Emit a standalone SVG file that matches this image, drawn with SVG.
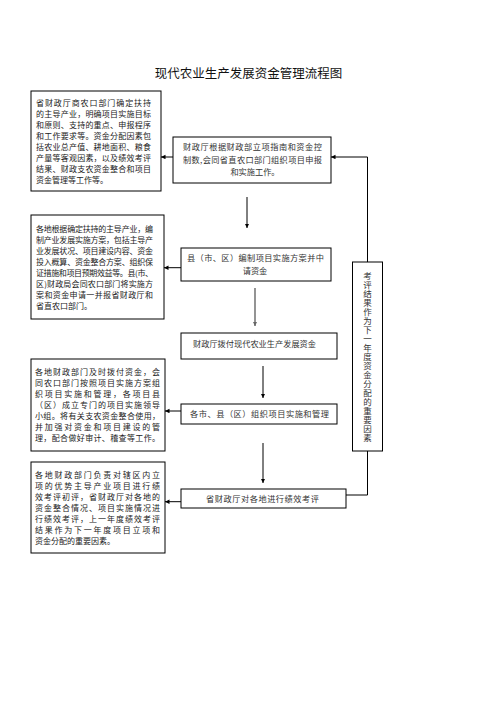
<svg xmlns="http://www.w3.org/2000/svg" width="496" height="702" viewBox="0 0 496 702">
<style>
.box{fill:#fff;stroke:#000;stroke-width:1}
.t{font-family:"Noto Sans CJK SC","Noto Sans",sans-serif;font-size:8px;fill:#222}
.m{font-family:"Noto Sans CJK SC","Noto Sans",sans-serif;font-size:8.2px;fill:#333}
.v{font-family:"Noto Sans CJK SC","Noto Sans",sans-serif;font-size:8.5px;fill:#333;writing-mode:vertical-rl}
.title{font-family:"Noto Sans CJK SC","Noto Sans",sans-serif;font-size:12.5px;fill:#111}
.ln{fill:none;stroke:#000;stroke-width:1}
</style>
<defs>
<marker id="ah" markerUnits="userSpaceOnUse" markerWidth="5" markerHeight="5" refX="4.5" refY="2.25" orient="auto">
<path d="M0,0 L4.5,2.25 L0,4.5 z" fill="#000"/>
</marker>
<marker id="ahg" markerUnits="userSpaceOnUse" markerWidth="5" markerHeight="5" refX="4.5" refY="2.25" orient="auto">
<path d="M0,0 L4.5,2.25 L0,4.5 z" fill="#666"/>
</marker>
</defs>
<rect width="496" height="702" fill="#fff"/>
<text class="title" x="248.5" y="77.5" text-anchor="middle">现代农业生产发展资金管理流程图</text>

<g id="left1">
<rect class="box" x="31" y="91" width="130" height="100"/>
<text class="t" x="36" y="105.5" textLength="115" lengthAdjust="spacing">省财政厅商农口部门确定扶持</text>
<text class="t" x="36" y="116.5" textLength="115" lengthAdjust="spacing">的主导产业，明确项目实施目标</text>
<text class="t" x="36" y="127.5" textLength="115" lengthAdjust="spacing">和原则、支持的重点、申报程序</text>
<text class="t" x="36" y="138.5" textLength="115" lengthAdjust="spacing">和工作要求等。资金分配因素包</text>
<text class="t" x="36" y="149.5" textLength="115" lengthAdjust="spacing">括农业总产值、耕地面积、粮食</text>
<text class="t" x="36" y="160.5" textLength="115" lengthAdjust="spacing">产量等客观因素，以及绩效考评</text>
<text class="t" x="36" y="171.5" textLength="115" lengthAdjust="spacing">结果、财政支农资金整合和项目</text>
<text class="t" x="36" y="182.5">资金管理等工作等。</text>
</g>

<g id="left2">
<rect class="box" x="31" y="215" width="133" height="104"/>
<text class="t" x="36" y="231.5" textLength="117" lengthAdjust="spacing">各地根据确定扶持的主导产业，编</text>
<text class="t" x="36" y="242.5" textLength="117" lengthAdjust="spacing">制产业发展实施方案，包括主导产</text>
<text class="t" x="36" y="253.5" textLength="117" lengthAdjust="spacing">业发展状况、项目建设内容、资金</text>
<text class="t" x="36" y="264.5" textLength="117" lengthAdjust="spacing">投入概算、资金整合方案、组织保</text>
<text class="t" x="36" y="275.5" textLength="117" lengthAdjust="spacing">证措施和项目预期效益等。县(市、</text>
<text class="t" x="36" y="286.5" textLength="117" lengthAdjust="spacing">区)财政局会同农口部门将实施方</text>
<text class="t" x="36" y="297.5" textLength="117" lengthAdjust="spacing">案和资金申请一并报省财政厅和</text>
<text class="t" x="36" y="308.5">省直农口部门。</text>
</g>

<g id="left3">
<rect class="box" x="31" y="359" width="134" height="92"/>
<text class="t" x="35" y="375" textLength="125" lengthAdjust="spacing">各地财政部门及时拨付资金，会</text>
<text class="t" x="35" y="386" textLength="125" lengthAdjust="spacing">同农口部门按照项目实施方案组</text>
<text class="t" x="35" y="397" textLength="125" lengthAdjust="spacing">织项目实施和管理，各项目县</text>
<text class="t" x="35" y="408" textLength="125" lengthAdjust="spacing">（区）成立专门的项目实施领导</text>
<text class="t" x="35" y="419" textLength="125" lengthAdjust="spacing">小组。将有关支农资金整合使用，</text>
<text class="t" x="35" y="430" textLength="125" lengthAdjust="spacing">并加强对资金和项目建设的管</text>
<text class="t" x="35" y="441" textLength="125" lengthAdjust="spacing">理，配合做好审计、稽查等工作。</text>
</g>

<g id="left4">
<rect class="box" x="31" y="462" width="134" height="91"/>
<text class="t" x="35" y="477.5" textLength="125" lengthAdjust="spacing">各地财政部门负责对辖区内立</text>
<text class="t" x="35" y="488.5" textLength="125" lengthAdjust="spacing">项的优势主导产业项目进行绩</text>
<text class="t" x="35" y="499.5" textLength="125" lengthAdjust="spacing">效考评初评，省财政厅对各地的</text>
<text class="t" x="35" y="510.5" textLength="125" lengthAdjust="spacing">资金整合情况、项目实施情况进</text>
<text class="t" x="35" y="521.5" textLength="125" lengthAdjust="spacing">行绩效考评，上一年度绩效考评</text>
<text class="t" x="35" y="532.5" textLength="125" lengthAdjust="spacing">结果作为下一年度项目立项和</text>
<text class="t" x="35" y="543.5">资金分配的重要因素。</text>
</g>

<g id="stepA">
<rect class="box" x="173" y="137" width="158" height="46"/>
<text class="m" x="183" y="150" textLength="139" lengthAdjust="spacing">财政厅根据财政部立项指南和资金控</text>
<text class="m" x="183" y="162.5" textLength="139" lengthAdjust="spacing">制数,会同省直农口部门组织项目申报</text>
<text class="m" x="255" y="175" text-anchor="middle">和实施工作。</text>
</g>

<g id="stepB">
<rect class="box" x="181" y="248" width="150" height="33"/>
<text class="m" x="187" y="260.5" textLength="137" lengthAdjust="spacing">县（市、区）编制项目实施方案并中</text>
<text class="m" x="255" y="273.5" text-anchor="middle">请资金</text>
</g>

<g id="stepC">
<rect class="box" x="181" y="333" width="156" height="26"/>
<text class="m" x="193" y="347" textLength="123" lengthAdjust="spacing">财政厅拨付现代农业生产发展资金</text>
</g>

<g id="stepD">
<rect class="box" x="181" y="404" width="156" height="20"/>
<text class="m" x="190" y="417" textLength="139" lengthAdjust="spacing">各市、县（区）组织项目实施和管理</text>
</g>

<g id="stepE">
<rect class="box" x="181" y="489" width="165" height="19"/>
<text class="m" x="206" y="501.5" textLength="113" lengthAdjust="spacing">省财政厅对各地进行绩效考评</text>
</g>

<g id="feedback">
<rect class="box" x="352.5" y="262" width="30" height="189"/>
<text class="v" x="367.5" y="271.5" textLength="171" lengthAdjust="spacing">考评结果作为下一年度资金分配的重要因素</text>
</g>

<g id="connectors">
<line class="ln" x1="173" y1="157" x2="161" y2="157" marker-end="url(#ah)"/>
<line class="ln" x1="181" y1="267.7" x2="164" y2="267.7" marker-end="url(#ah)"/>
<line class="ln" x1="181" y1="411" x2="165" y2="411" marker-end="url(#ah)"/>
<line class="ln" x1="181" y1="501.7" x2="165" y2="501.7" marker-end="url(#ah)"/>
<line class="ln" x1="247" y1="197" x2="247" y2="228" marker-end="url(#ah)"/>
<line class="ln" x1="255" y1="288" x2="255" y2="326" style="stroke:#666;stroke-width:1.4" marker-end="url(#ahg)"/>
<line class="ln" x1="263" y1="366" x2="263" y2="398" marker-end="url(#ah)"/>
<line class="ln" x1="263" y1="443" x2="263" y2="483" marker-end="url(#ah)"/>
<polyline class="ln" points="367.5,262 367.5,157 331,157" marker-end="url(#ah)"/>
<polyline class="ln" points="346,495 367.5,495 367.5,451"/>
</g>
</svg>
